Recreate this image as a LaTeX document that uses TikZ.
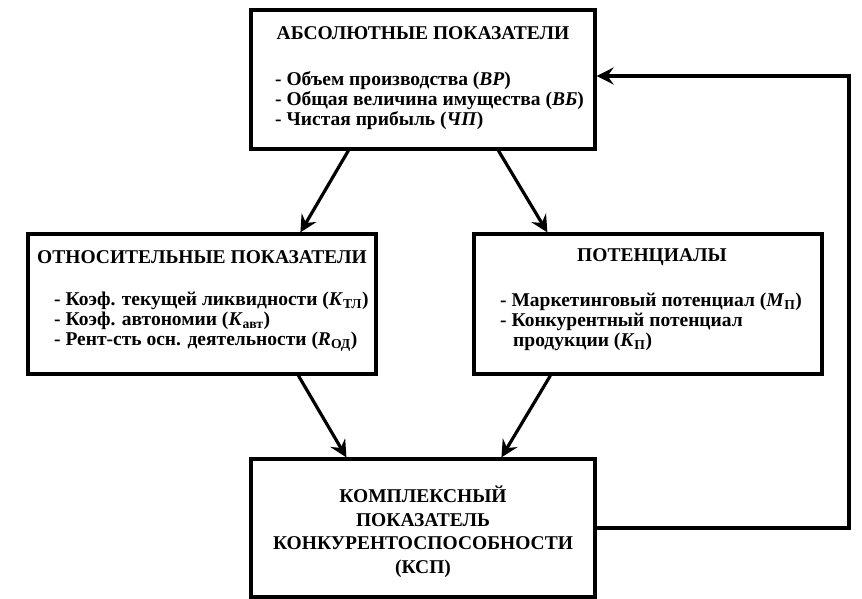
\documentclass[tikz,border=0pt]{standalone}
\usepackage{fontspec}
\setmainfont{Liberation Serif}
\usetikzlibrary{arrows.meta}
\begin{document}
\begin{tikzpicture}[x=1pt,y=-1pt,
  box/.style={draw,line width=3.2pt,rectangle,inner sep=0pt},
  ttl/.style={font=\bfseries\fontsize{19.5}{20}\selectfont,inner sep=0pt,anchor=center},
  body/.style={font=\bfseries\fontsize{19.5}{20}\selectfont,inner sep=0pt,align=left,anchor=west},
  arr/.style={line width=3.2pt,-{Stealth[length=17pt,width=17pt,inset=6pt]}}]
\useasboundingbox (0,0) rectangle (862,599);
\node[box,minimum width=344pt,minimum height=139pt] (top) at (423,79.5) {};
\node[box,minimum width=348pt,minimum height=140pt] (lft) at (202,304) {};
\node[box,minimum width=348pt,minimum height=140pt] (rgt) at (648,304) {};
\node[box,minimum width=344pt,minimum height=138pt] (bot) at (423,528) {};

\node[ttl] (topt) at (423,33) {АБСОЛЮТНЫЕ ПОКАЗАТЕЛИ};
\node[body] (topb) at (275,101) {- Объем производства (\textit{ВР})\\- Общая величина имущества (\textit{ВБ})\\- Чистая прибыль (\textit{ЧП})};

\node[ttl] (lftt) at (202,257) {ОТНОСИТЕЛЬНЫЕ ПОКАЗАТЕЛИ};
\node[body] (lftb) at (54,322) {- Коэф. текущей ликвидности (\textit{K}\textsubscript{ТЛ})\\- Коэф. автономии (\textit{K}\textsubscript{авт})\\- Рент-сть осн. деятельности (\textit{R}\textsubscript{ОД})};

\node[ttl] (rgtt) at (652,257) {ПОТЕНЦИАЛЫ};
\node[body] (rgtb) at (500,322) {- Маркетинговый потенциал (\textit{M}\textsubscript{П})\\- Конкурентный потенциал\\\hspace{13pt}продукции (\textit{K}\textsubscript{П})};

\node[font=\bfseries\fontsize{19.5}{23.5}\selectfont,align=center,inner sep=0pt] (bott) at (423,532) {КОМПЛЕКСНЫЙ\\ПОКАЗАТЕЛЬ\\КОНКУРЕНТОСПОСОБНОСТИ\\(КСП)};

\draw[arr] ([xshift=99pt]top.south west) -- ([xshift=274pt]lft.north west);
\draw[arr] ([xshift=249pt]top.south west) -- ([xshift=75pt]rgt.north west);
\draw[arr] ([xshift=272pt]lft.south west) -- ([xshift=97pt]bot.north west);
\draw[arr] ([xshift=78pt]rgt.south west) -- ([xshift=252pt]bot.north west);
\coordinate (fb1) at (849,528);
\coordinate (fb2) at (849,76);
\draw[arr] (bot.east) -- (fb1) -- (fb2) -- (top.east |- fb2);
\end{tikzpicture}
\end{document}
